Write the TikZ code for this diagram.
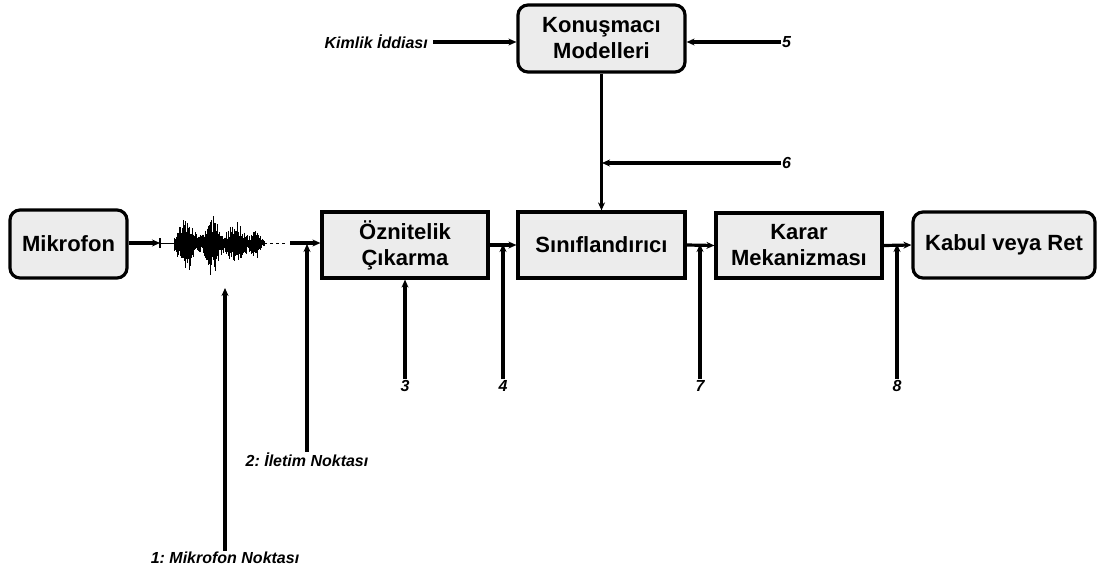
\documentclass[tikz,border=0pt]{standalone}
\usepackage{fontspec}
\setmainfont{Liberation Sans}
\usetikzlibrary{arrows.meta}
\definecolor{boxfill}{RGB}{236,236,236}
\tikzset{
  x=1pt, y=-1pt,
  blockbox/.style={draw=black, line width=3.2pt, fill=boxfill, inner sep=0pt,
    font=\fontsize{22}{26}\selectfont\bfseries, align=center},
  roundbox/.style={blockbox, rounded corners=10pt},
  flow/.style={line width=3.2pt, -{Stealth[length=8pt,width=7pt]}},
  tag/.style={font=\fontsize{16}{19}\selectfont\bfseries\itshape, inner sep=1pt},
}
\begin{document}
\frenchspacing
\begin{tikzpicture}
\useasboundingbox (0,0) rectangle (1097,573);

% processing blocks
\node[roundbox, minimum width=117pt, minimum height=68pt] (mic) at (68.5,244) {Mikrofon};
\node[blockbox, minimum width=166pt, minimum height=66pt] (feat) at (405,245) {Öznitelik\\Çıkarma};
\node[blockbox, minimum width=167pt, minimum height=66pt] (cls) at (601.5,245) {Sınıflandırıcı};
\node[blockbox, minimum width=166pt, minimum height=65pt] (dec) at (799,245.5) {Karar\\Mekanizması};
\node[roundbox, minimum width=182pt, minimum height=66pt] (out) at (1004,245) {Kabul veya Ret};
\node[roundbox, minimum width=167pt, minimum height=67pt] (spk) at (601.5,38.5) {Konuşmacı\\Modelleri};

% speech waveform
\coordinate (wavein) at (160,243);
\coordinate (waveout) at (290,243);
\draw[line width=1.4pt] (160,238) -- (160,248);
\draw[line width=1pt] (160,243) -- (175,243);
\pgfmathsetseed{11}
\foreach \i in {0,...,220}{
  \pgfmathsetmacro{\xx}{174+\i*0.41}
  \pgfmathsetmacro{\env}{25*exp(-((\xx-186)/9)^2)+25*exp(-((\xx-212)/8)^2)+18*exp(-((\xx-236)/10)^2)+10*exp(-((\xx-256)/5)^2)+3}
  \pgfmathsetmacro{\up}{\env*(0.35+0.65*rnd^2)}
  \pgfmathsetmacro{\dn}{\env*1.2*(0.35+0.65*rnd^2)}
  \draw[line width=0.9pt] (\xx,243-\up) -- (\xx,243+\dn);
}
\foreach \xx in {264,270,276,282}{
  \draw[line width=1pt] (\xx,243) -- (\xx+3,243);
}

% main signal path
\draw[flow] (mic.east |- wavein) -- (wavein);
\draw[flow] (waveout) -- (feat.west |- waveout);
\draw[flow] (feat.east) -- (cls.west);
\draw[flow] (cls.east) -- (dec.west);
\draw[flow] (dec.east) -- (out.west);
\draw[flow] (spk.south) -- (cls.north);

% identity claim
\node[tag, anchor=east] (claim) at (429,42) {Kimlik İddiası};
\draw[flow] (claim.east) ++(4,0) -- (spk.west |- claim);

% attack points
\node[tag] (p1) at (225,558) {1: Mikrofon Noktası};
\coordinate (t1) at (225,288);
\draw[flow] (p1.north) -- (t1);

\node[tag] (p2) at (307,460) {2: İletim Noktası};
\coordinate (t2) at (307,244);
\draw[flow] (p2.north) -- (t2);

\node[tag] (p3) at (405,386) {3};
\draw[flow] (p3.north) -- (feat.south);

\node[tag] (p4) at (503,386) {4};
\coordinate (t4) at (503,244);
\draw[flow] (p4.north) -- (t4);

\node[tag, anchor=west] (p5) at (781,42) {5};
\draw[flow] (p5.west) -- (spk.east |- p5);

\node[tag, anchor=west] (p6) at (781,163) {6};
\coordinate (t6) at (602,163);
\draw[flow] (p6.west) -- (t6);

\node[tag] (p7) at (700,386) {7};
\coordinate (t7) at (700,244);
\draw[flow] (p7.north) -- (t7);

\node[tag] (p8) at (897,386) {8};
\coordinate (t8) at (897,244);
\draw[flow] (p8.north) -- (t8);
\end{tikzpicture}
\end{document}
